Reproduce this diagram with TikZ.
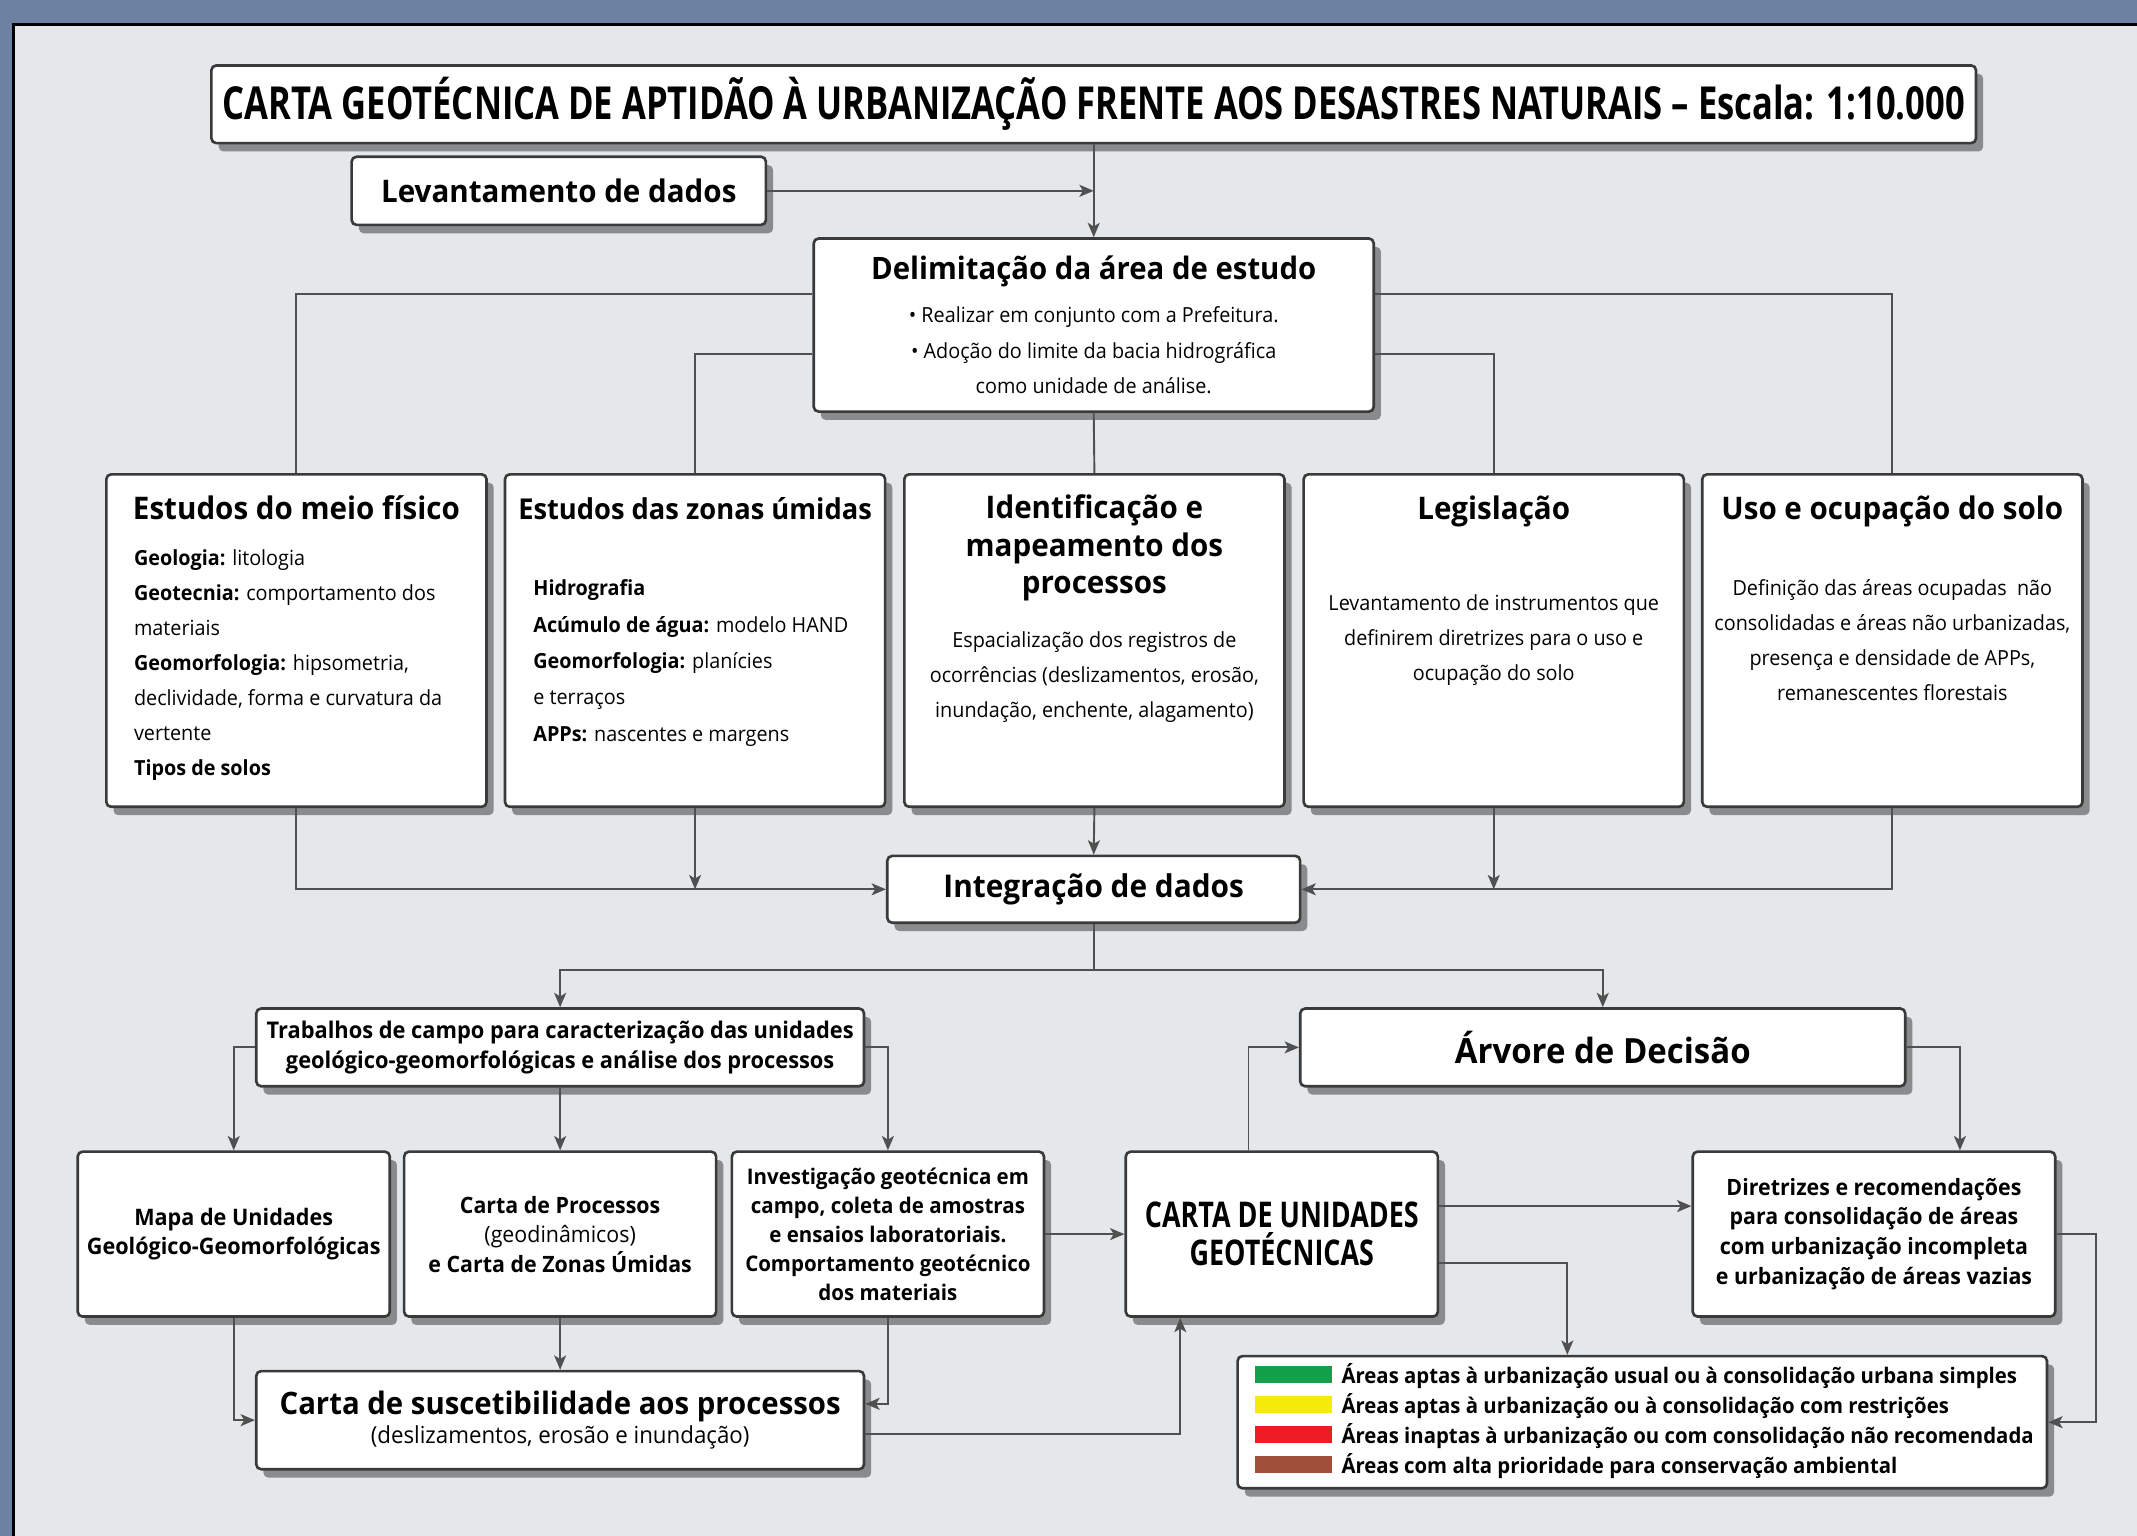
\documentclass[tikz,border=0pt]{standalone}
\usepackage{fontspec}
\setmainfont{Open Sans}[FakeStretch=0.95]
\newfontfamily\capsfont{Open Sans}[FakeStretch=0.76]
\usetikzlibrary{arrows.meta,shadows}

\definecolor{framebg}{HTML}{6D82A3}
\definecolor{panelbg}{HTML}{E5E8EB}
\definecolor{edgegray}{HTML}{505050}
\definecolor{boxline}{HTML}{3A3A3A}
\definecolor{aptgreen}{HTML}{14A04B}
\definecolor{aptyellow}{HTML}{F5EB0A}
\definecolor{inaptred}{HTML}{EE1D23}
\definecolor{consbrown}{HTML}{A0503A}

\tikzstyle{box}=[rectangle,draw=boxline,line width=1.1pt,fill=white,rounded corners=2pt,inner sep=0pt,drop shadow={shadow xshift=3pt,shadow yshift=-3.5pt,fill=black,opacity=0.4}]
\tikzstyle{studybox}=[box,minimum width=5.58cm,minimum height=4.88cm]
\tikzstyle{lowbox}=[box,minimum width=4.58cm,minimum height=2.42cm,align=center,font=\fontsize{9.4}{12.3}\selectfont\bfseries]
\tikzstyle{link}=[draw=edgegray,line width=0.8pt]
\tikzstyle{flow}=[link,-{Stealth[length=6pt,width=5pt,inset=1.5pt]}]
\tikzstyle{boxhead}=[inner sep=0pt,align=center,anchor=base,font=\fontsize{13}{15.6}\selectfont\bfseries]
\tikzstyle{boxbody}=[inner sep=0pt,font=\fontsize{8.7}{14.6}\selectfont]
\tikzstyle{swatch}=[rectangle,inner sep=0pt,minimum width=1.12cm,minimum height=0.26cm]
\tikzstyle{legitem}=[inner sep=0pt,anchor=base west,font=\fontsize{8.95}{11}\selectfont\bfseries]

\begin{document}
\begin{tikzpicture}[x=0.02cm,y=-0.02cm]
% \draw [help lines,step=100] (0,0) grid (1568,1127);
\useasboundingbox (0,0) rectangle (1568,1127);

% frame
\fill[framebg] (0,0) rectangle (1568,1127);
\fill[panelbg] (10,18) rectangle (1568,1127);
\draw[black,line width=1.4pt] (10,1127) -- (10,18) -- (1568,18);

% title and first steps
\node[box,minimum width=25.9cm,minimum height=1.14cm,font=\capsfont\fontsize{19}{22}\selectfont\bfseries] (title) at (802.5,76.5) {CARTA GEOTÉCNICA DE APTIDÃO À URBANIZAÇÃO FRENTE AOS DESASTRES NATURAIS – Escala: 1:10.000};
\node[box,minimum width=6.08cm,minimum height=1cm,font=\fontsize{13}{16}\selectfont\bfseries] (levant) at (410,140) {Levantamento de dados};
\node[box,minimum width=8.22cm,minimum height=2.54cm,align=center,font=\fontsize{8.7}{14.8}\selectfont] (delim) at (802.5,238.5) {{\fontsize{12.9}{16}\selectfont\bfseries Delimitação da área de estudo}\\[3pt] • Realizar em conjunto com a Prefeitura.\\ • Adoção do limite da bacia hidrográfica\\ como unidade de análise.};

% the five studies
\node[studybox] (fis) at (217.5,470) {};
\node[studybox] (umid) at (510,470) {};
\node[studybox] (proc) at (803,470) {};
\node[studybox] (legis) at (1096,470) {};
\node[studybox] (uso) at (1388.5,470) {};

\node[boxhead] (fis-head) at (217.5,381) {Estudos do meio físico};
\node[boxhead,font=\fontsize{12}{15}\selectfont\bfseries] (umid-head) at (510,381) {Estudos das zonas úmidas};
\node[boxhead,anchor=center] (proc-head) at (803,402) {Identificação e\\mapeamento dos\\processos};
\node[boxhead] (legis-head) at (1096,381) {Legislação};
\node[boxhead] (uso-head) at (1388.5,381) {Uso e ocupação do solo};

\node[boxbody,anchor=north west,align=left] (fis-text) at (98,403) {\textbf{Geologia:} litologia\\\textbf{Geotecnia:} comportamento dos\\materiais\\\textbf{Geomorfologia:} hipsometria,\\declividade, forma e curvatura da\\vertente\\\textbf{Tipos de solos}};
\node[boxbody,anchor=north west,align=left,font=\fontsize{8.7}{15.2}\selectfont] (umid-text) at (391,425) {\textbf{Hidrografia}\\\textbf{Acúmulo de água:} modelo HAND\\\textbf{Geomorfologia:} planícies\\e terraços\\\textbf{APPs:} nascentes e margens};
\node[boxbody,anchor=north,align=center] (proc-text) at (803,463) {Espacialização dos registros de\\ocorrências (deslizamentos, erosão,\\inundação, enchente, alagamento)};
\node[boxbody,anchor=north,align=center] (legis-text) at (1096,436) {Levantamento de instrumentos que\\definirem diretrizes para o uso e\\ocupação do solo};
\node[boxbody,anchor=north,align=center] (uso-text) at (1388.5,425) {Definição das áreas ocupadas~ não\\consolidadas e áreas não urbanizadas,\\presença e densidade de APPs,\\remanescentes florestais};

% integration
\node[box,minimum width=6.06cm,minimum height=0.98cm,font=\fontsize{13.1}{15}\selectfont\bfseries] (integ) at (802.5,652.5) {Integração de dados};

% field work and decision tree
\node[box,minimum width=8.92cm,minimum height=1.14cm,align=center,font=\fontsize{9.6}{12.5}\selectfont\bfseries] (trab) at (411,768.5) {Trabalhos de campo para caracterização das unidades\\geológico-geomorfológicas e análise dos processos};
\node[box,minimum width=8.88cm,minimum height=1.14cm,font=\fontsize{14.5}{17}\selectfont\bfseries] (arvore) at (1176,768.5) {Árvore de Decisão};

% products
\node[lowbox,font=\fontsize{9.5}{12.3}\selectfont\bfseries] (mapa) at (171.5,905.5) {Mapa de Unidades\\Geológico-Geomorfológicas};
\node[lowbox] (cartaproc) at (411,905.5) {Carta de Processos\\{\mdseries (geodinâmicos)}\\e Carta de Zonas Úmidas};
\node[lowbox,font=\fontsize{9}{12.1}\selectfont\bfseries] (invest) at (651.5,905.5) {Investigação geotécnica em\\campo, coleta de amostras\\e ensaios laboratoriais.\\Comportamento geotécnico\\dos materiais};
\node[lowbox,font=\capsfont\fontsize{14.8}{16}\selectfont\bfseries] (cug) at (940.5,905.5) {CARTA DE UNIDADES\\GEOTÉCNICAS};
\node[box,minimum width=5.32cm,minimum height=2.42cm,align=center,font=\fontsize{9.4}{12.5}\selectfont\bfseries] (diret) at (1375,905.5) {Diretrizes e recomendações\\para consolidação de áreas\\com urbanização incompleta\\e urbanização de áreas vazias};
\node[box,minimum width=8.92cm,minimum height=1.44cm,align=center] (susc) at (411,1042) {{\fontsize{12.9}{15}\selectfont\bfseries Carta de suscetibilidade aos processos}\\{\fontsize{9.8}{12}\selectfont (deslizamentos, erosão e inundação)}};

% legend
\node[box,minimum width=11.88cm,minimum height=1.94cm] (legend) at (1205,1043.5) {};
\node[swatch,fill=aptgreen] (sw-green) at (949,1008.5) {};
\node[swatch,fill=aptyellow] (sw-yellow) at (949,1030.5) {};
\node[swatch,fill=inaptred] (sw-red) at (949,1052.5) {};
\node[swatch,fill=consbrown] (sw-brown) at (949,1074.5) {};
\node[legitem] (it-green) at (984,1015) {Áreas aptas à urbanização usual ou à consolidação urbana simples};
\node[legitem] (it-yellow) at (984,1037) {Áreas aptas à urbanização ou à consolidação com restrições};
\node[legitem] (it-red) at (984,1059) {Áreas inaptas à urbanização ou com consolidação não recomendada};
\node[legitem] (it-brown) at (984,1081) {Áreas com alta prioridade para conservação ambiental};

% edges of the top part
\draw[flow] (title.south) -- (delim.north);
\draw[flow] (levant.east) -- (levant.east -| delim.north);
\draw[link] ([yshift=12.8pt]delim.west) -| (fis.north);
\draw[link] ([yshift=-12.2pt]delim.west) -| (umid.north);
\draw[link] (delim.south) -- (proc.north);
\draw[link] ([yshift=-12.2pt]delim.east) -| (legis.north);
\draw[link] ([yshift=12.8pt]delim.east) -| (uso.north);

% edges into integ
\draw[flow] (fis.south) |- (integ.west);
\draw[flow] (umid.south) -- (umid.south |- integ.west);
\draw[flow] (proc.south) -- (integ.north);
\draw[flow] (legis.south) -- (legis.south |- integ.east);
\draw[flow] (uso.south) |- (integ.east);

% edges from integ
\draw[link] (integ.south) -- (integ.south |- 0,712) coordinate (split);
\draw[flow] (split) -| (trab.north);
\draw[flow] (split) -| (arvore.north);

% edges from trab
\draw[flow] (trab.west) -| (mapa.north);
\draw[flow] (trab.south) -- (cartaproc.north);
\draw[flow] (trab.east) -| (invest.north);

% edges into susc and cug
\draw[flow] (mapa.south) |- (susc.west);
\draw[flow] (cartaproc.south) -- (susc.north);
\draw[flow] (invest.south) |- ([yshift=6.8pt]susc.east);
\draw[flow] (invest.east) -- (cug.west);
\draw[flow] ([yshift=-5.7pt]susc.east) -| ([xshift=-42.4pt]cug.south);

% edges around the decision tree
\draw[flow] ([xshift=-13.9pt]cug.north) |- (arvore.west);
\draw[flow] (arvore.east) -| ([xshift=35.9pt]diret.north);
\draw[flow] ([yshift=11.7pt]cug.east) -- ([yshift=11.7pt]cug.east -| diret.west);
\draw[flow] ([yshift=-12.2pt]cug.east) -| ([xshift=-31.3pt]legend.north);
\draw[flow] (diret.east) -- ([xshift=16.5pt]diret.east) |- (legend.east);

\end{tikzpicture}
\end{document}
